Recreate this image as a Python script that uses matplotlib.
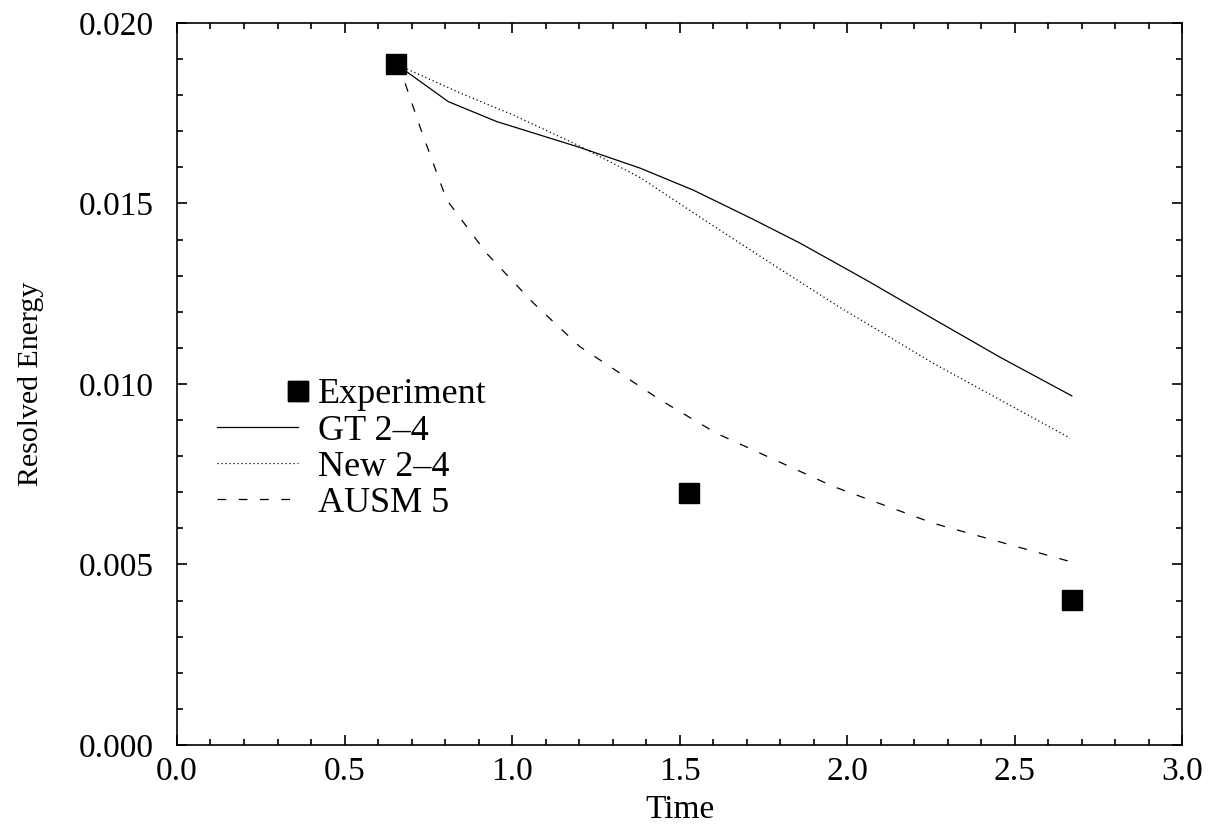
import matplotlib
matplotlib.use('Agg')
import matplotlib.pyplot as plt
from matplotlib.ticker import MultipleLocator, FormatStrFormatter
from matplotlib.legend_handler import HandlerLine2D

# experimental points
exp_t = [0.654, 1.529, 2.672]
exp_e = [0.01886, 0.00699, 0.00402]

# GT 2-4
gt_t = [0.654, 0.81, 0.954, 1.203, 1.382, 1.541, 1.72, 1.86, 2.059, 2.258, 2.457, 2.671]
gt_e = [0.01886, 0.01782, 0.01727, 0.01655, 0.01598, 0.01537, 0.01456, 0.01390, 0.01287, 0.01180, 0.01074, 0.00967]

# New 2-4
new_t = [0.654, 0.855, 1.004, 1.2, 1.382, 1.581, 1.78, 1.979, 2.258, 2.457, 2.666]
new_e = [0.01886, 0.01802, 0.01745, 0.01660, 0.01572, 0.01450, 0.01330, 0.01212, 0.01057, 0.00956, 0.00850]

# AUSM 5
ausm_t = [0.654, 0.681, 0.725, 0.765, 0.805, 0.924, 1.064, 1.203, 1.322, 1.442, 1.611, 1.959, 2.258, 2.666]
ausm_e = [0.01886, 0.01833, 0.01713, 0.01611, 0.01510, 0.01362, 0.01224, 0.01103, 0.01030, 0.00956, 0.00863, 0.00716, 0.00614, 0.00508]


class MarkerAtEnd(HandlerLine2D):
    # square sits at the right end of the handle, like the original
    def get_xdata(self, legend, xdescent, ydescent, width, height, fontsize):
        end = -xdescent + width
        return [end, end], [end]


plt.rcParams['font.family'] = ['Liberation Serif', 'DejaVu Serif']

fig = plt.figure(figsize=(12.09, 8.26), dpi=100)
ax = fig.add_axes([0.1464, 0.0981, 0.8313, 0.8741])

ax.plot(gt_t, gt_e, color='black', lw=0.9, ls='-', label='GT 2\u20134')
ax.plot(new_t, new_e, color='black', lw=0.9, ls=(0, (1, 2.2)), label='New 2\u20134')
ax.plot(ausm_t, ausm_e, color='black', lw=0.9, ls=(0, (7, 10)), label='AUSM 5')
exp_line, = ax.plot(exp_t, exp_e, ls='none', marker='s', ms=15, color='black',
                    label='Experiment', zorder=5)

ax.set_xlim(0, 3.0)
ax.set_ylim(0, 0.020)
ax.xaxis.set_major_locator(MultipleLocator(0.5))
ax.xaxis.set_minor_locator(MultipleLocator(0.1))
ax.yaxis.set_major_locator(MultipleLocator(0.005))
ax.yaxis.set_minor_locator(MultipleLocator(0.001))
ax.xaxis.set_major_formatter(FormatStrFormatter('%.1f'))
ax.yaxis.set_major_formatter(FormatStrFormatter('%.3f'))
ax.tick_params(which='both', direction='in', top=True, right=True, labelsize=24, width=1.2)
ax.tick_params(which='major', length=7)
ax.tick_params(which='minor', length=4.5)
ax.tick_params(axis='y', which='major', pad=17)
ax.tick_params(axis='x', which='major', pad=8)
for s in ax.spines.values():
    s.set_linewidth(1.2)

ax.set_xlabel('Time', fontsize=24)
ax.set_ylabel('Resolved Energy', fontsize=21.5)
ax.xaxis.set_label_coords(0.5, -0.068)
ax.yaxis.set_label_coords(-0.132, 0.5)

h, l = ax.get_legend_handles_labels()
order = [3, 0, 1, 2]
ax.legend([h[i] for i in order], [l[i] for i in order], loc='upper left',
          bbox_to_anchor=(0.04, 0.508), frameon=False, fontsize=26,
          handlelength=2.25, handletextpad=0.55, labelspacing=0.08,
          borderaxespad=0.0, borderpad=0.0,
          handler_map={exp_line: MarkerAtEnd(numpoints=2)})

plt.savefig('out.png', dpi=100)
